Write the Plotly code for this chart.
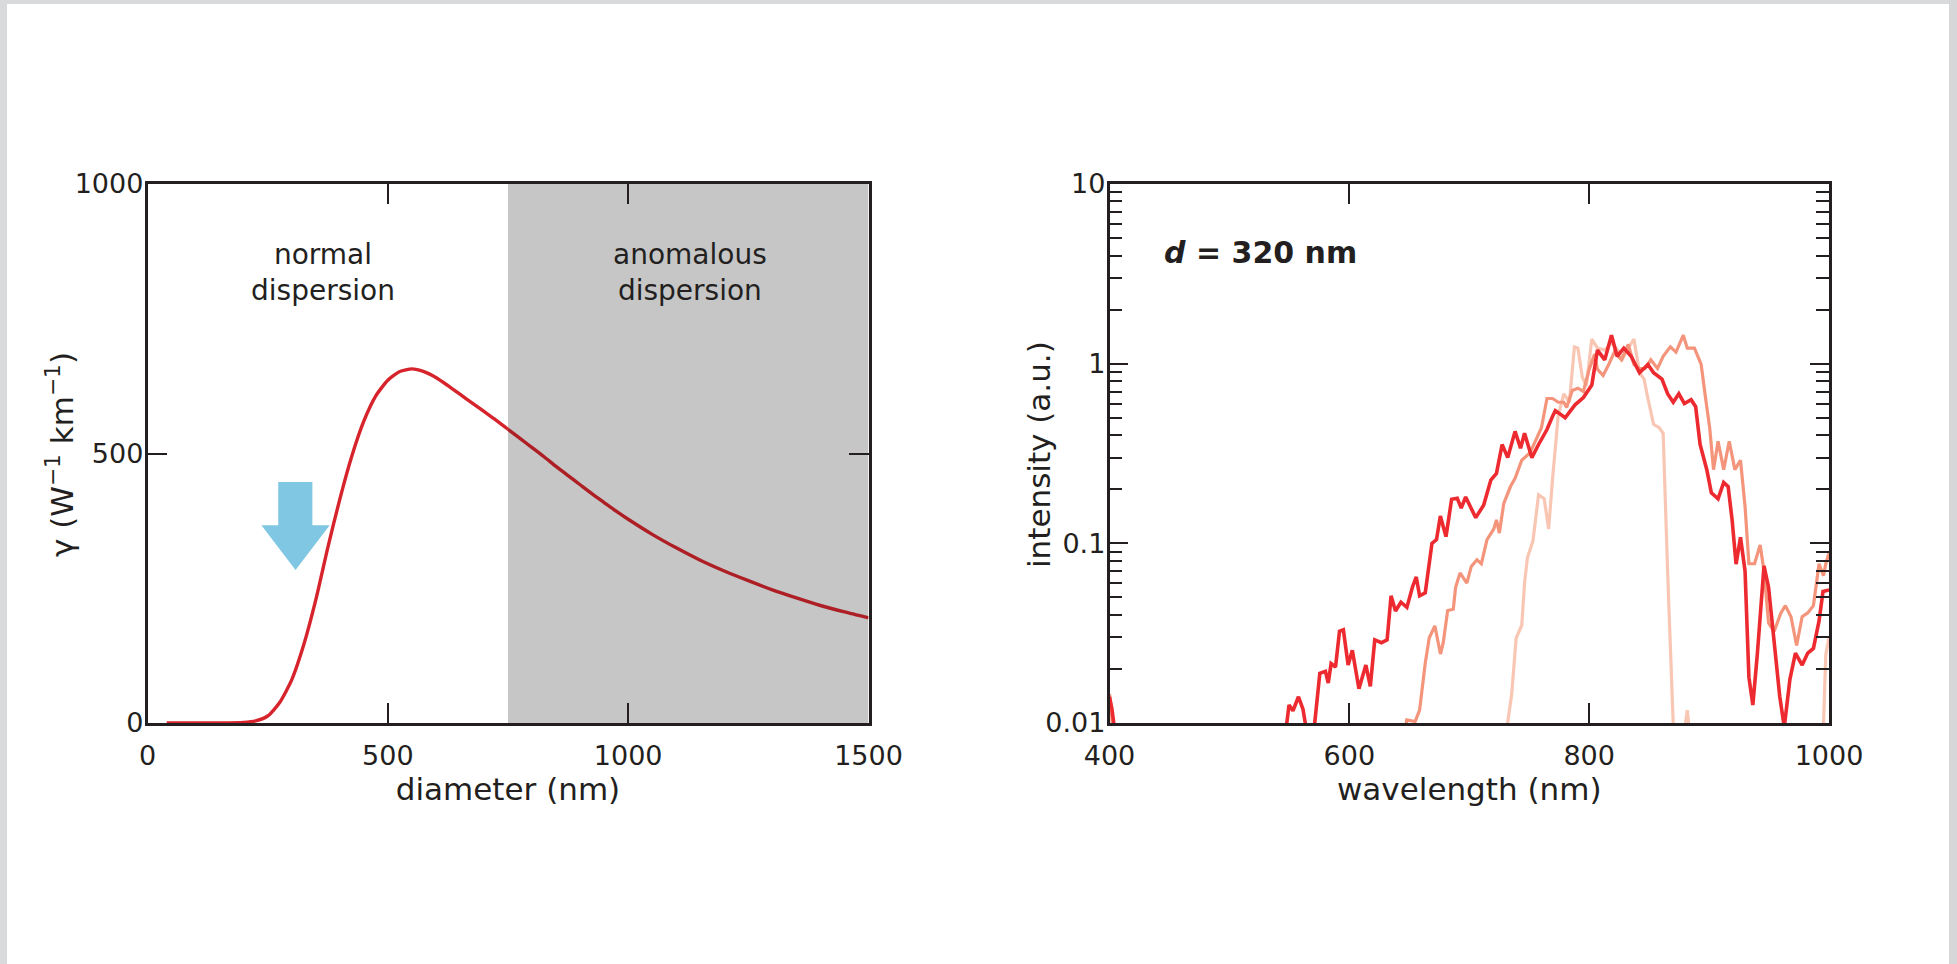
import math
import plotly.graph_objects as go

# ---------------- data: left panel (nonlinear coefficient vs diameter) ----------------
diameter_nm = [40, 100, 150, 200, 225, 250, 275, 300, 325, 350, 375, 400, 425, 450, 475,
               500, 525, 550, 575, 600, 625, 650, 675, 700, 725, 750, 775, 800, 825, 850,
               875, 900, 925, 950, 975, 1000, 1050, 1100, 1150, 1200, 1250, 1300, 1350,
               1400, 1450, 1500]
gamma_vals = [0, 0, 0, 1, 4, 13, 38, 80, 145, 228, 325, 415, 495, 560, 607,
              636, 652, 657, 652, 641, 626, 610, 594, 578, 562, 545, 528, 511, 494, 476,
              459, 442, 425, 409, 393, 378, 350, 325, 302, 282, 264, 247, 232,
              218, 206, 195]
anomalous_start = 750
region_labels = ["normal<br>dispersion", "anomalous<br>dispersion"]
region_label_x = [365, 1129]

# arrow marking d = 320 nm (data coords)
arrow_x = [272, 343, 343, 379, 308, 237, 272]
arrow_y = [447, 447, 367, 367, 284, 367, 367]

# ---------------- data: right panel (spectra, d = 320 nm) ----------------
red_wl = [400, 402, 404, 406, None,
          545, 549.7, 553, 557.6, 561.4, 563.7, 567, 571, 575.4, 580.1, 582.4, 584.8, 588.5,
          591.8, 595, 599, 602.5, 608, 613.8, 617.5, 621.2, 626.8, 631.5, 634.8, 638.5,
          643, 648, 652.6, 655.8, 658.6, 663.3, 668.9, 672.7, 675.9, 680.6, 685.3, 690,
          693.3, 697, 705.4, 712, 718, 722.7, 727.4, 732.1, 738.2, 742.8, 746.1, 752.2,
          757.8, 764.8, 769.5, 771.8, 780, 788.2, 795.2, 802.2, 806.9, 813, 818.6, 823.3,
          828.9, 835, 842, 849, 853.7, 860.7, 865.4, 870.1, 874.8, 879.4, 885, 888.8,
          892.5, 898.1, 901.9, 907.5, 912.2, 915.9, 919.2, 922.5, 926.2, 930, 933.2,
          936.5, 940.2, 945.8, 949.6, 954.2, 958.9, 962.7, 967.4, 972, 977.6, 982.3,
          987, 991.7, 995, 1000]
red_int = [0.014, 0.012, 0.0095, 0.007, None,
           0.007, 0.0126, 0.0117, 0.014, 0.0119, 0.0098, 0.007, 0.0098, 0.0189, 0.0194,
           0.0167, 0.0214, 0.0205, 0.0324, 0.033, 0.021, 0.0254, 0.0155, 0.021, 0.016,
           0.029, 0.028, 0.029, 0.051, 0.042, 0.047, 0.044, 0.057, 0.065, 0.051, 0.053,
           0.100, 0.105, 0.142, 0.109, 0.176, 0.178, 0.157, 0.181, 0.139, 0.163, 0.225,
           0.245, 0.355, 0.30, 0.42, 0.338, 0.41, 0.30, 0.355, 0.43, 0.51, 0.548, 0.50,
           0.59, 0.648, 0.76, 1.19, 1.05, 1.44, 1.10, 1.22, 1.10, 0.89, 0.99, 0.89, 0.82,
           0.68, 0.61, 0.68, 0.60, 0.63, 0.576, 0.355, 0.257, 0.191, 0.177, 0.218, 0.207,
           0.135, 0.0766, 0.108, 0.07, 0.018, 0.0126, 0.024, 0.0748, 0.057, 0.030,
           0.0141, 0.0095, 0.0175, 0.0245, 0.021, 0.0245, 0.026, 0.037, 0.054, 0.055]

salmon_wl = [400, 401.5, 403, None,
             645, 647.9, 654.9, 658.6, 663.3, 666.6, 671.3, 676, 678.3, 682, 686.7, 688.6,
             692.3, 698, 701.7, 706.4, 710.1, 714.8, 720.4, 722.7, 725.1, 728.8, 734.4,
             738.2, 743.8, 750.8, 755.5, 760.2, 764.8, 769.5, 774.2, 778.9, 781.2, 785.9,
             790.6, 795.2, 800, 804.6, 806.9, 811.6, 816.3, 821, 827, 832.6, 837.3, 842,
             846.7, 851.4, 857, 861.7, 867.7, 872.4, 878.5, 881.8, 887.8, 893.4, 897.1,
             900.5, 903.7, 907.5, 912.2, 916.8, 921.5, 926.2, 930, 933.2, 937.9, 942.6,
             945.8, 949.6, 954.2, 959.9, 963.6, 968.3, 973, 977.6, 982.3, 987, 991.7,
             995.4, 997.3, 1000]
salmon_int = [0.0145, 0.012, 0.008, None,
              0.008, 0.0104, 0.0102, 0.0118, 0.0215, 0.0297, 0.0347, 0.0242, 0.028,
              0.0423, 0.043, 0.0567, 0.0685, 0.060, 0.0744, 0.081, 0.077, 0.105, 0.12,
              0.135, 0.114, 0.167, 0.207, 0.23, 0.29, 0.32, 0.375, 0.44, 0.64, 0.64,
              0.61, 0.61, 0.57, 0.71, 0.73, 0.70, 0.93, 1.13, 0.93, 0.86, 0.99, 1.16,
              1.05, 1.28, 0.99, 0.94, 0.94, 1.05, 0.94, 1.10, 1.24, 1.16, 1.44, 1.22,
              1.22, 0.99, 0.64, 0.44, 0.257, 0.37, 0.257, 0.37, 0.257, 0.29, 0.16, 0.077,
              0.077, 0.098, 0.070, 0.036, 0.0323, 0.041, 0.045, 0.039, 0.027, 0.039,
              0.041, 0.045, 0.077, 0.066, 0.077, 0.088]

pink_wl = [730, 732, 735.4, 739.1, 743.8, 746.1, 748.5, 753.1, 755.5, 757.8, 762.5,
           766.2, 769.5, 774.2, 778.9, 783.5, 787.7, 790.6, 794.3, 797.6, 802.2, 806.9,
           813, 818.6, 823.3, 828, 832.6, 837.3, 842, 845.8, 849, 853.7, 858.4, 861.7,
           865.4, 867.8, 870.1, 872, None,
           879, 881.8, 884, None,
           994, 995.4, 997.3, 1000]
pink_int = [0.008, 0.0100, 0.0145, 0.0297, 0.035, 0.060, 0.083, 0.103, 0.142, 0.186,
            0.177, 0.12, 0.23, 0.515, 0.68, 0.61, 1.24, 1.22, 0.84, 0.75, 1.37, 1.22,
            1.19, 1.31, 1.20, 1.07, 1.22, 1.37, 0.89, 0.82, 0.64, 0.46, 0.44, 0.41,
            0.07, 0.024, 0.0098, 0.007, None,
            0.0085, 0.0118, 0.0085, None,
            0.007, 0.0098, 0.024, 0.030]

spectrum_label = "<b><i>d</i> = 320 nm</b>"
spectrum_label_pos = (444, 4.15)  # (wavelength, intensity)

# ---------------- styling ----------------
INK = "#231f20"
FONT = "DejaVu Sans, Verdana, sans-serif"
W, H = 1957, 964

fig = go.Figure()

# left panel curve: split at the anomalous-dispersion boundary
idx = diameter_nm.index(anomalous_start)
fig.add_trace(go.Scatter(x=diameter_nm[:idx + 1], y=gamma_vals[:idx + 1], mode="lines",
                         line=dict(color="#d7242c", width=3.4, shape="spline", smoothing=0.6),
                         xaxis="x", yaxis="y", showlegend=False, hoverinfo="skip"))
fig.add_trace(go.Scatter(x=diameter_nm[idx:], y=gamma_vals[idx:], mode="lines",
                         line=dict(color="#ad1f25", width=3.4, shape="spline", smoothing=0.6),
                         xaxis="x", yaxis="y", showlegend=False, hoverinfo="skip"))

# right panel spectra (lightest underneath)
for wl, inten, col, w in [(pink_wl, pink_int, "#f9c6b3", 3.2),
                          (salmon_wl, salmon_int, "#f3947b", 3.2),
                          (red_wl, red_int, "#ec2a2f", 3.6)]:
    fig.add_trace(go.Scatter(x=wl, y=inten, mode="lines", connectgaps=False,
                             line=dict(color=col, width=w), xaxis="x2", yaxis="y2",
                             showlegend=False, hoverinfo="skip"))

# shapes: anomalous region, arrow, page border strips
arrow_path = "M " + " L ".join(f"{x},{y}" for x, y in zip(arrow_x, arrow_y)) + " Z"
fig.update_layout(shapes=[
    dict(type="rect", xref="x", yref="y", x0=anomalous_start, x1=1500, y0=0, y1=1000,
         fillcolor="#c6c6c6", line=dict(width=0), layer="below"),
    dict(type="path", xref="x", yref="y", path=arrow_path, fillcolor="#7fc7e3",
         line=dict(width=0), layer="below"),
    dict(type="rect", xref="paper", yref="paper", x0=0, x1=7 / W, y0=0, y1=1,
         fillcolor="#d9dadc", line=dict(width=0), layer="below"),
    dict(type="rect", xref="paper", yref="paper", x0=0, x1=1, y0=1 - 4 / H, y1=1,
         fillcolor="#d9dadc", line=dict(width=0), layer="below"),
    dict(type="rect", xref="paper", yref="paper", x0=1949 / W, x1=1, y0=0, y1=1,
         fillcolor="#d6d7d9", line=dict(width=0), layer="below"),
])

annotations = []
for lab, xx in zip(region_labels, region_label_x):
    annotations.append(dict(x=xx, y=836, xref="x", yref="y", text=lab, showarrow=False,
                            font=dict(family=FONT, size=28, color=INK), align="center"))
annotations.append(dict(x=spectrum_label_pos[0], y=math.log10(spectrum_label_pos[1]),
                        xref="x2", yref="y2", text=spectrum_label,
                        showarrow=False, xanchor="left", yanchor="middle",
                        font=dict(family=FONT, size=30, color=INK)))
# y-axis titles (rotated)
annotations.append(dict(x=60 / W, y=1 - 455 / H, xref="paper", yref="paper",
                        text="γ (W<sup>−1</sup> km<sup>−1</sup>)", textangle=-90,
                        showarrow=False, xanchor="center", yanchor="middle",
                        font=dict(family=FONT, size=31, color=INK)))
annotations.append(dict(x=1039 / W, y=1 - 455 / H, xref="paper", yref="paper",
                        text="intensity (a.u.)", textangle=-90,
                        showarrow=False, xanchor="center", yanchor="middle",
                        font=dict(family=FONT, size=31, color=INK)))
fig.update_layout(annotations=annotations)

axis_common = dict(showline=True, linecolor=INK, linewidth=2.5, mirror="ticks",
                   ticks="inside", tickcolor=INK, tickwidth=2, showgrid=False,
                   zeroline=False, automargin=False,
                   tickfont=dict(family=FONT, size=27, color=INK))

ydom = [1 - 723 / H, 1 - 184 / H]
fig.update_layout(
    width=W, height=H, template="none",
    paper_bgcolor="white", plot_bgcolor="rgba(0,0,0,0)",
    margin=dict(l=0, r=0, t=0, b=0),
    xaxis=dict(domain=[147.5 / W, 868.5 / W], range=[0, 1500], tickmode="array",
               tickvals=[0, 500, 1000, 1500], ticklen=20, ticklabelstandoff=7,
               title=dict(text="diameter (nm)", standoff=1,
                          font=dict(family=FONT, size=31, color=INK)),
               **axis_common),
    yaxis=dict(domain=ydom, range=[0, 1000], tickmode="array", tickvals=[0, 500, 1000],
               ticklen=20, ticklabelstandoff=-4, **axis_common),
    xaxis2=dict(domain=[1109.5 / W, 1829 / W], range=[400, 1000], anchor="y2",
                tickmode="array", tickvals=[400, 600, 800, 1000], ticklen=20,
                ticklabelstandoff=7,
                title=dict(text="wavelength (nm)", standoff=1,
                           font=dict(family=FONT, size=31, color=INK)),
                **axis_common),
    yaxis2=dict(domain=ydom, type="log", range=[-2, 1], anchor="x2",
                tickmode="array", tickvals=[0.01, 0.1, 1, 10],
                ticktext=["0.01", "0.1", "1", "10"], ticklen=19, ticklabelstandoff=-4,
                minor=dict(ticks="inside", ticklen=13, tickwidth=2, tickcolor=INK,
                           tickmode="array",
                           tickvals=[m * 10 ** e for e in (-2, -1, 0) for m in range(2, 10)]),
                **axis_common),
)

fig.write_html("out.html", config={"displayModeBar": False},
               post_script="document.body.style.margin='0px';")
